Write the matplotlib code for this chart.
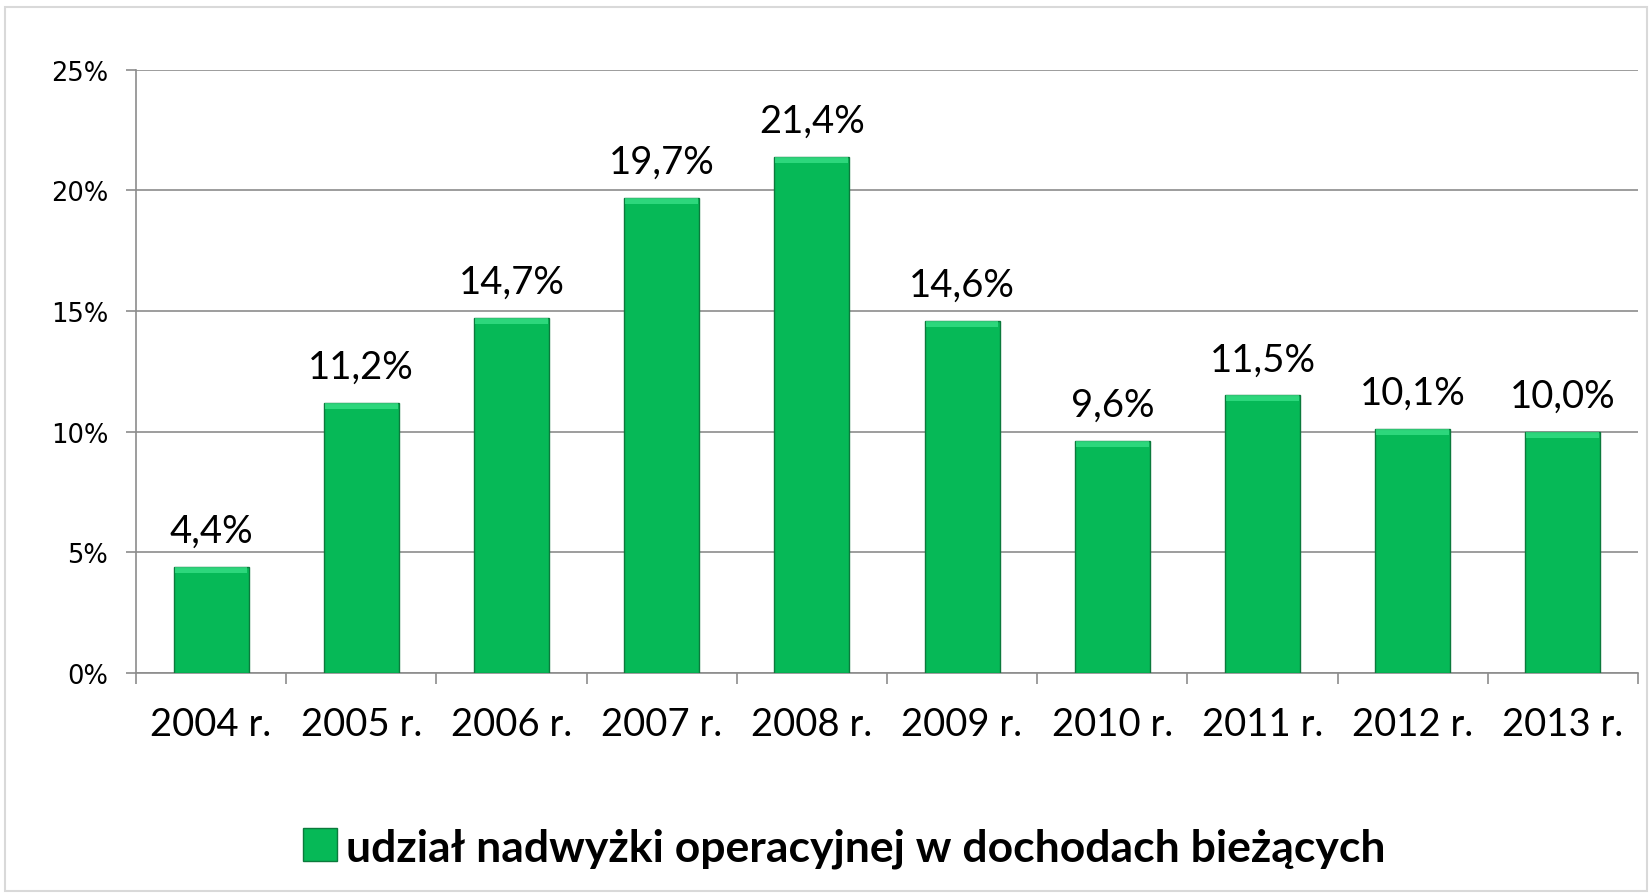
import matplotlib
matplotlib.use('Agg')
import matplotlib.pyplot as plt
from matplotlib.patches import Rectangle
import numpy as np

# ── dane ──
years = ['2004 r.', '2005 r.', '2006 r.', '2007 r.', '2008 r.',
         '2009 r.', '2010 r.', '2011 r.', '2012 r.', '2013 r.']
values = [4.4, 11.2, 14.7, 19.7, 21.4, 14.6, 9.6, 11.5, 10.1, 10.0]
yticks = [0, 5, 10, 15, 20, 25]
legend_label = 'udział nadwyżki operacyjnej w dochodach bieżących'

GREEN = '#06B957'
GREEN_LIGHT = '#3FE48C'
GREEN_DARK = '#0B7A3C'
GRID = '#8C8C8C'

fig = plt.figure(figsize=(16.52, 8.95), dpi=100)
ax = fig.add_axes([0.0823, 0.2469, 0.9092, 0.6742])

x = np.arange(len(years))
bw = 0.5

# słupki z prostym efektem "bevel"
ax.bar(x, values, width=bw, color=GREEN, edgecolor=GREEN_DARK, linewidth=1.0, zorder=3)
cap = 0.25
ax.bar(x, [cap] * len(values), bottom=[v - cap for v in values], width=bw * 0.97,
       color=GREEN_LIGHT, edgecolor='none', zorder=4, alpha=0.7)

for xi, v in zip(x, values):
    ax.text(xi, v + 0.75, f'{v:.1f}%'.replace('.', ','), ha='center', va='bottom',
            fontsize=27.5, family='Lato', color='black', zorder=5)

ax.set_xlim(-0.5, len(years) - 0.5)
ax.set_ylim(0, 25)
ax.set_yticks(yticks)
ax.set_yticklabels([f'{t}%' for t in yticks], fontsize=18.5, family='DejaVu Sans')
ax.yaxis.grid(True, color=GRID, linewidth=1.2, zorder=0)
ax.set_axisbelow(True)

# etykiety lat na środkach, kreski na granicach kategorii
ax.set_xticks(x)
ax.set_xticklabels(years, fontsize=27.5, family='Lato')
ax.tick_params(axis='x', which='major', length=0, pad=24)
ax.set_xticks(np.arange(-0.5, len(years)), minor=True)
ax.tick_params(axis='x', which='minor', length=8, width=1.2, color=GRID)
ax.tick_params(axis='y', length=7, width=1.2, color=GRID, pad=13)

for s in ['top', 'right']:
    ax.spines[s].set_visible(False)
for s in ['left', 'bottom']:
    ax.spines[s].set_color(GRID)
    ax.spines[s].set_linewidth(1.2)

# legenda
handle = Rectangle((0, 0), 1, 1, facecolor=GREEN, edgecolor=GREEN_DARK)
fig.legend([handle], [legend_label], loc='center', bbox_to_anchor=(0.511, 0.052),
           frameon=False, prop={'family': 'Lato', 'weight': 'bold', 'size': 32},
           handlelength=0.75, handleheight=0.75, handletextpad=0.2)

# ramka wykresu
fig.add_artist(Rectangle((0.003, 0.003), 0.994, 0.988, transform=fig.transFigure,
                         fill=False, edgecolor='#D9D9D9', linewidth=1.5))

fig.savefig('out.png', dpi=100)
